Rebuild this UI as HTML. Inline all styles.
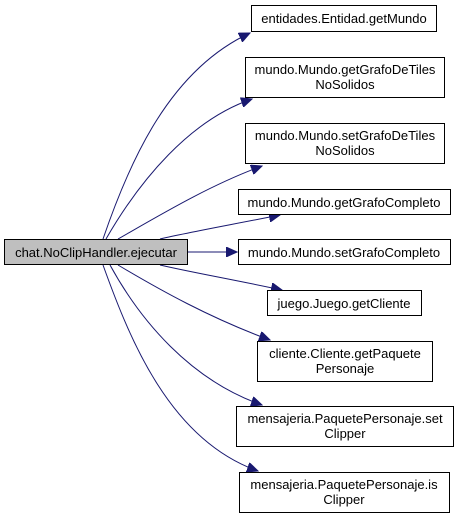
<!DOCTYPE html>
<html><head><meta charset="utf-8"><style>
html,body{margin:0;padding:0;background:#fff}
svg{display:block}
text{font-family:"Liberation Sans",Arial,sans-serif;font-size:13px;fill:#000}
</style></head><body>
<svg width="459" height="518" viewBox="0 0 459 518">
<defs><marker id="a" markerWidth="12" markerHeight="10" refX="11" refY="5" orient="auto" markerUnits="userSpaceOnUse"><path d="M0,0 L11,5 L0,10 z" fill="#191970" stroke="#191970"/></marker></defs>
<g fill="none" stroke="#191970" stroke-width="1" marker-end="url(#a)">
<path d="M103,239 C130,160 170,70 250,33"/>
<path d="M106,239 C140,180 190,120 252,99"/>
<path d="M118,239 C160,215 210,185 262,166"/>
<path d="M160,239 C190,232 230,225 280,215"/>
<path d="M188,252 L237,252"/>
<path d="M160,265 C190,272 230,279 282,290"/>
<path d="M118,265 C160,290 210,318 270,340"/>
<path d="M110,265 C140,320 190,380 262,405"/>
<path d="M103,265 C130,340 170,440 258,471"/>
</g>
<g stroke="#000" stroke-width="1" fill="#fff">
<rect x="4.5" y="239.5" width="183" height="25" fill="#bfbfbf"/>
<rect x="251.5" y="5.5" width="185" height="26"/>
<rect x="245.5" y="57.5" width="199" height="40"/>
<rect x="245.5" y="123.5" width="199" height="40"/>
<rect x="238.5" y="189.5" width="212" height="25"/>
<rect x="238.5" y="239.5" width="212" height="25"/>
<rect x="267.5" y="290.5" width="154" height="25"/>
<rect x="257.5" y="341.5" width="175" height="40"/>
<rect x="236.5" y="406.5" width="217" height="40"/>
<rect x="239.5" y="472.5" width="210" height="40"/>
</g>
<g text-anchor="middle">
<text x="96" y="257">chat.NoClipHandler.ejecutar</text>
<text x="344" y="23">entidades.Entidad.getMundo</text>
<text x="345" y="74">mundo.Mundo.getGrafoDeTiles</text>
<text x="345" y="89">NoSolidos</text>
<text x="345" y="140">mundo.Mundo.setGrafoDeTiles</text>
<text x="345" y="155">NoSolidos</text>
<text x="344" y="207">mundo.Mundo.getGrafoCompleto</text>
<text x="344" y="257">mundo.Mundo.setGrafoCompleto</text>
<text x="344" y="308">juego.Juego.getCliente</text>
<text x="345" y="358">cliente.Cliente.getPaquete</text>
<text x="345" y="373">Personaje</text>
<text x="345" y="423">mensajeria.PaquetePersonaje.set</text>
<text x="345" y="438">Clipper</text>
<text x="344" y="489">mensajeria.PaquetePersonaje.is</text>
<text x="344" y="504">Clipper</text>
</g>
</svg>
</body></html>
